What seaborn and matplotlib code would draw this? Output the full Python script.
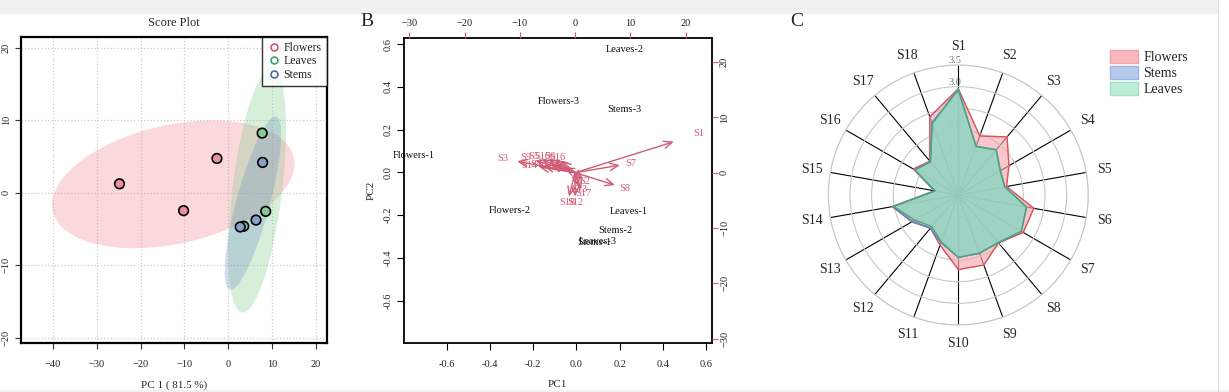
import matplotlib
matplotlib.use("Agg")
import matplotlib.pyplot as plt
import matplotlib.transforms as mtransforms
from matplotlib.patches import Ellipse, Rectangle, Patch
from matplotlib.lines import Line2D
import numpy as np
import pandas as pd
import seaborn as sns

sns.set_theme(style="white")
plt.rcParams['font.family'] = ['Liberation Serif', 'DejaVu Serif']

# ---- Panel A: PCA score plot ----
groups = ["Flowers", "Flowers", "Flowers", "Leaves", "Leaves", "Leaves", "Stems", "Stems", "Stems"]
pc1 = [-24.8, -10.2, -2.6, 7.7, 8.5, 3.5, 7.8, 6.3, 2.7]
pc2 = [1.2, -2.5, 4.7, 8.2, -2.6, -4.65, 4.15, -3.8, -4.75]

# ---- Panel B: biplot ----
sample_names = ["Flowers-1", "Flowers-2", "Flowers-3", "Leaves-1", "Leaves-2", "Leaves-3",
                "Stems-1", "Stems-2", "Stems-3"]
sample_x = [-0.751, -0.310, -0.083, 0.244, 0.224, 0.100, 0.085, 0.181, 0.222]
sample_y = [0.081, -0.179, 0.332, -0.185, 0.574, -0.325, -0.330, -0.271, 0.294]

var_names = ["S%d" % i for i in range(1, 19)]
load_x = [22.3, 1.8, -13.1, -7.2, -7.5, -4.6, 10.1, 9.0, -9.0, -6.0, -5.5, 0.0, 0.8, -8.2, -2.5, -3.2, 1.4, -1.4]
load_y = [7.0, -1.6, 2.6, 1.5, 2.9, 2.9, 1.7, -2.8, 2.8, 3.0, 1.7, -5.4, -3.0, 1.3, 1.2, 2.7, -3.8, -5.4]

# ---- Panel C: radar chart ----
flowers = [2.95, 1.95, 2.25, 1.85, 1.63, 2.27, 2.23, 1.94, 2.22, 2.22, 1.73, 1.50, 1.72, 2.05, 1.05, 1.70, 1.52, 2.42]
stems = [2.92, 1.70, 1.86, 1.62, 1.59, 2.10, 2.18, 1.93, 1.93, 1.94, 1.67, 1.50, 1.74, 2.04, 1.05, 1.67, 1.50, 2.28]
leaves = [2.95, 1.69, 1.86, 1.62, 1.59, 2.10, 2.18, 1.94, 1.93, 1.94, 1.65, 1.45, 1.66, 2.02, 1.05, 1.65, 1.50, 2.25]

W, H = 1229, 392
fig = plt.figure(figsize=(W / 100, H / 100), dpi=100)
fig.patches.append(Rectangle((0, (H - 13) / H), 1218 / W, 13 / H, transform=fig.transFigure,
                             color="#f1f1f1", zorder=-5))
fig.patches.append(Rectangle((0, 0), 1, 2 / H, transform=fig.transFigure, color="#f1f1f1", zorder=-5))
fig.lines.append(Line2D([1218 / W, 1218 / W], [0, 1], transform=fig.transFigure, color="#dddddd", lw=0.8))


def px_rect(x0, y0, x1, y1):
    return [x0 / W, (H - y1) / H, (x1 - x0) / W, (y1 - y0) / H]


# ================= A =================
pt_colors = {"Flowers": "#E8909C", "Leaves": "#86C995", "Stems": "#8A9FCB"}
ell_colors = {"Flowers": "#F07F8E", "Leaves": "#7CCB86", "Stems": "#6F8FC0"}
leg_colors = {"Flowers": "#C8506A", "Leaves": "#2E9E5B", "Stems": "#4A5F9E"}

axA = fig.add_axes(px_rect(20.7, 36.7, 326.7, 343.3))
df = pd.DataFrame({"group": groups, "PC1": pc1, "PC2": pc2})

# 95% normal confidence ellipse per group
for g in ["Flowers", "Leaves", "Stems"]:
    sub = df[df.group == g]
    cov = np.cov(sub.PC1, sub.PC2)
    vals, vecs = np.linalg.eigh(cov)
    order = vals.argsort()[::-1]
    vals, vecs = vals[order], vecs[:, order]
    angle = np.degrees(np.arctan2(vecs[1, 0], vecs[0, 0]))
    k = np.sqrt(5.991)
    e = Ellipse((sub.PC1.mean(), sub.PC2.mean()), 2 * k * np.sqrt(vals[0]), 2 * k * np.sqrt(vals[1]),
                angle=angle, facecolor=ell_colors[g], edgecolor="none", alpha=0.3, zorder=1)
    axA.add_patch(e)

sns.scatterplot(data=df, x="PC1", y="PC2", hue="group", palette=pt_colors, s=48,
                edgecolor="black", linewidth=1.2, ax=axA, legend=False, zorder=3)
axA.set_xlim(-47.3, 22.4)
axA.set_ylim(-20.8, 21.5)
axA.set_xticks(range(-40, 21, 10))
axA.set_yticks(range(-20, 21, 10))
axA.grid(True, color="#cccccc", linestyle=":", lw=0.9)
axA.tick_params(axis="both", direction="out", length=4, width=0.8, labelsize=7.5, color="#333333",
                bottom=True, left=True)
axA.tick_params(axis="x", pad=8)
axA.tick_params(axis="y", pad=3)
for lab in axA.get_yticklabels():
    lab.set_rotation(90)
    lab.set_va("center")
for s in axA.spines.values():
    s.set_color("black")
    s.set_linewidth(1.6)
axA.set_xlabel("PC 1 ( 81.5 %)", fontsize=8, labelpad=8)
axA.set_ylabel("")
axA.set_title("Score Plot", fontsize=9, pad=8)
handles = [Line2D([], [], marker="o", ls="none", markerfacecolor="none", markeredgecolor=leg_colors[g],
                  markeredgewidth=1.1, markersize=5, label=g) for g in ["Flowers", "Leaves", "Stems"]]
legA = axA.legend(handles=handles, loc="upper right", borderaxespad=0, fontsize=8.5, frameon=True,
                  fancybox=False, handletextpad=0.2, labelspacing=0.12, borderpad=0.45, handlelength=1.2)
legA.get_frame().set_edgecolor("black")
legA.get_frame().set_linewidth(1.0)

# ================= B =================
red = "#CF5C74"
rectB = px_rect(404, 38.3, 711.7, 343.3)
axB = fig.add_axes(rectB)
for name, x, y in zip(sample_names, sample_x, sample_y):
    axB.text(x, y, name, ha="center", va="center", fontsize=7.5, color="#111111")
axB.set_xlim(-0.798, 0.626)
axB.set_ylim(-0.80, 0.628)
axB.set_xticks(np.arange(-0.6, 0.61, 0.2))
axB.set_yticks(np.arange(-0.6, 0.61, 0.2))
axB.set_xticklabels(["-0.6", "-0.4", "-0.2", "0.0", "0.2", "0.4", "0.6"])
axB.set_yticklabels(["-0.6", "-0.4", "-0.2", "0.0", "0.2", "0.4", "0.6"])
axB.tick_params(axis="both", direction="out", length=5, width=0.8, labelsize=7.5, color="black",
                bottom=True, left=True)
axB.tick_params(axis="x", pad=7)
axB.tick_params(axis="y", pad=3)
for lab in axB.get_yticklabels():
    lab.set_rotation(90)
    lab.set_va("center")
for s in axB.spines.values():
    s.set_color("black")
    s.set_linewidth(1.3)
axB.set_xlabel("PC1", fontsize=8, labelpad=8)
axB.set_ylabel("PC2", fontsize=8, labelpad=6)

axL = fig.add_axes(rectB, facecolor="none")
axL.set_xlim(-30.96, 24.7)
axL.set_ylim(-30.85, 24.3)
axL.xaxis.tick_top()
axL.yaxis.tick_right()
for s in axL.spines.values():
    s.set_visible(False)
axL.set_xticks(range(-30, 21, 10))
axL.set_yticks(range(-30, 21, 10))
axL.tick_params(axis="both", direction="out", length=4.5, width=0.8, color=red, labelsize=7.5,
                labelcolor="#222222", top=True, right=True)
axL.tick_params(axis="x", pad=3)
axL.tick_params(axis="y", pad=1.5)
for lab in axL.get_yticklabels():
    lab.set_rotation(90)
    lab.set_va("center")
for name, x, y in zip(var_names, load_x, load_y):
    axL.annotate("", xy=(0.8 * x, 0.8 * y), xytext=(0, 0),
                 arrowprops=dict(arrowstyle="->,head_length=0.5,head_width=0.22", color=red, lw=1.0,
                                 shrinkA=0, shrinkB=0))
    axL.text(x, y, name, ha="center", va="center", fontsize=7.5, color=red)

fig.text(366.7 / W, 1 - 22 / H, "B", fontsize=14, ha="center", va="center")
fig.text(796.7 / W, 1 - 21 / H, "C", fontsize=14, ha="center", va="center")

# ================= C =================
axC = fig.add_axes(px_rect(828.3, 65, 1088.3, 325), projection="polar")
axC.set_theta_offset(np.pi / 2)
axC.set_theta_direction(-1)
angles = np.arange(len(var_names)) * 2 * np.pi / len(var_names)
closed = np.concatenate([angles, angles[:1]])
series = [("Flowers", flowers, "#F4A9B0", "#D9535F"),
          ("Stems", stems, "#9DBBE8", "#5F86C9"),
          ("Leaves", leaves, "#8FDDB6", "#4FA577")]
for name, vals, fc, ec in series:
    v = np.concatenate([vals, vals[:1]])
    axC.fill(closed, v, color=fc, alpha=0.65, zorder=2)
    axC.plot(closed, v, color=ec, lw=1.0, zorder=3)
axC.set_ylim(0.5, 3.5)
axC.set_xticks(angles)
axC.set_xticklabels(var_names, fontsize=10)
axC.tick_params(axis="x", pad=0.5)
axC.set_yticks(np.arange(0.5, 3.51, 0.5))
axC.set_yticklabels(["0.5", "1.0", "1.5", "2.0", "2.5", "3.0", "3.5"], fontsize=7.5, color="#777777")
axC.set_rlabel_position(0)
shift = mtransforms.ScaledTranslation(-10 / 100, 0, fig.dpi_scale_trans)
for lab in axC.get_yticklabels():
    lab.set_transform(lab.get_transform() + shift)
axC.grid(True)
axC.xaxis.grid(True, color="black", lw=0.8)
axC.yaxis.grid(True, color="#c8c8c8", lw=0.8)
axC.spines["polar"].set_color("#c8c8c8")
axC.spines["polar"].set_linewidth(0.8)
axC.set_axisbelow(True)

leg_handles = [Patch(facecolor="#F7B9BE", edgecolor="#F1A3AA", label="Flowers"),
               Patch(facecolor="#B4CBEB", edgecolor="#9DB6DE", label="Stems"),
               Patch(facecolor="#BDEDD6", edgecolor="#A6DFC3", label="Leaves")]
fig.legend(handles=leg_handles, loc="upper left", bbox_to_anchor=(1110 / W, 1 - 50 / H), frameon=False,
           fontsize=10, handlelength=2.0, handleheight=1.05, labelspacing=0.12, handletextpad=0.4,
           borderaxespad=0, borderpad=0)

fig.savefig("out.png", dpi=100, facecolor="white")
